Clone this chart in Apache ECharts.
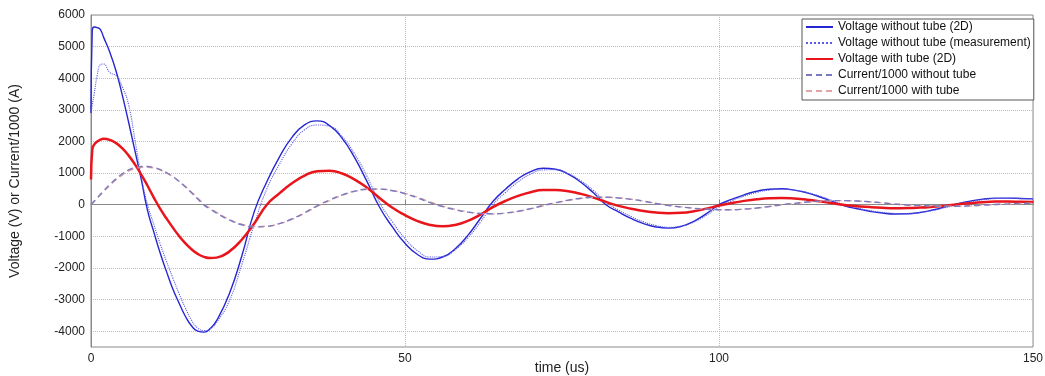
<!DOCTYPE html>
<html>
<head>
<meta charset="utf-8">
<script src="https://cdn.jsdelivr.net/npm/echarts@6/dist/echarts.min.js"></script>
<style>
html,body{margin:0;padding:0;background:#fff;}
#chart{width:1045px;height:376px;}
</style>
</head>
<body>
<div id="chart"></div>
<script>
// time (us)
const time = [0, 0.2, 0.5, 1, 1.5, 2, 3, 4, 5, 6, 7, 8, 9, 10, 11, 12, 13, 14, 15, 16, 17, 18, 19, 20,
  22, 24, 26, 28, 30, 32, 34, 36, 38, 40, 42, 44, 46, 48, 50, 52, 54, 56, 58, 60, 62, 64, 66, 68, 70,
  72, 74, 76, 78, 80, 82, 84, 86, 88, 90, 92, 94, 96, 98, 100, 102, 104, 106, 108, 110, 112, 114, 116,
  118, 120, 122, 124, 126, 128, 130, 132, 134, 136, 138, 140, 142, 144, 146, 148, 150];

// Voltage without tube (2D)
const voltNoTube2D = [2900, 5500, 5620, 5600, 5540, 5300, 4820, 4220, 3450, 2600, 1700, 800, -180, -860, -1520, -2100, -2650, -3100, -3520, -3830, -4000, -4030, -3911, -3667,
  -2831, -1630, -218, 728, 1508, 2129, 2523, 2650, 2502, 2099, 1481, 713, -95, -703, -1220, -1575, -1722, -1653, -1392, -971, -436, 101, 490, 819, 1049,
  1153, 1122, 969, 712, 376, 0, -229, -435, -599, -704, -740, -684, -523, -283, 0, 166, 313, 426, 491, 503, 463, 376, 253,
  103, -34, -127, -207, -264, -292, -288, -245, -169, -70, 31, 114, 176, 208, 207, 198, 185];

// Voltage without tube (measurement)
const voltNoTubeMeas = [2900, 3150, 3500, 4100, 4430, 4450, 4180, 4080, 3720, 3150, 2050, 900, 0, -620, -1230, -1780, -2300, -2800, -3250, -3650, -3900, -3980, -3920, -3720,
  -3050, -1900, -620, 500, 1280, 1930, 2370, 2520, 2480, 2150, 1600, 880, 55, -545, -1070, -1455, -1655, -1640, -1425, -1050, -555, 0, 385, 720, 970,
  1100, 1110, 985, 755, 450, 92, -172, -373, -543, -660, -715, -680, -548, -335, -68, 121, 269, 388, 461, 490, 460, 388, 275,
  136, -3, -100, -182, -243, -276, -283, -250, -184, -92, 5, 90, 155, 194, 200, 194, 184];

// Voltage with tube (2D)
const voltTube2D = [800, 1740, 1900, 2000, 2060, 2085, 2050, 1947, 1781, 1553, 1274, 955, 600, 227, -123, -428, -717, -983, -1217, -1409, -1555, -1649, -1688, -1673,
  -1484, -1107, -591, 0, 359, 677, 920, 1058, 1077, 986, 795, 527, 205, -97, -328, -517, -641, -684, -639, -510, -313, -75, 121, 278, 397,
  463, 468, 426, 343, 226, 88, -37, -125, -199, -249, -270, -256, -205, -124, -26, 54, 121, 172, 203, 210, 194, 160, 110,
  49, -9, -45, -76, -98, -109, -107, -92, -65, -29, 10, 50, 81, 98, 100, 94, 85];

// Current/1000 without tube
const currNoTube = [0, 44, 110, 219, 328, 435, 636, 821, 980, 1100, 1180, 1207, 1207, 1176, 1112, 1016, 891, 740, 569, 381, 183, -13, -141, -264,
  -480, -633, -702, -685, -597, -449, -254, -34, 151, 310, 429, 492, 494, 443, 348, 217, 64, -62, -158, -234, -279, -289, -263, -205, -123,
  -25, 66, 145, 204, 236, 237, 214, 170, 109, 37, -25, -73, -113, -143, -158, -158, -139, -103, -55, 0, 44, 84, 113,
  128, 128, 116, 92, 59, 20, -10, -27, -40, -49, -48, -33, -12, 8, 25, 40, 50];

// Current/1000 with tube
const currTube = [0, 40, 100, 205, 310, 410, 610, 790, 945, 1065, 1145, 1180, 1185, 1160, 1100, 1010, 890, 745, 580, 400, 210, 20, -115, -240,
  -460, -615, -690, -680, -600, -460, -270, -55, 130, 295, 420, 488, 495, 450, 360, 235, 85, -45, -145, -225, -275, -290, -268, -212, -132,
  -35, 55, 135, 198, 232, 236, 216, 175, 115, 45, -18, -68, -108, -140, -156, -158, -141, -107, -60, -6, 38, 79, 109,
  126, 128, 118, 95, 63, 25, -6, -24, -38, -48, -49, -36, -15, 5, 22, 37, 48];

const seriesNames = ['Voltage without tube (2D)', 'Voltage without tube (measurement)', 'Voltage with tube (2D)',
  'Current/1000 without tube', 'Current/1000 with tube'];
const xTicks = [0, 50, 100, 150];
const yTicks = [-4000, -3000, -2000, -1000, 0, 1000, 2000, 3000, 4000, 5000, 6000];

function pairs(vals) { return time.map((t, i) => [t, vals[i]]); }

const FONT = 'Liberation Sans, Arial, sans-serif';
const chart = echarts.init(document.getElementById('chart'), null, { renderer: 'canvas' });

const styles = [
  { color: '#2626d2', width: 1.4, type: 'solid', z: 3 },
  { color: '#5a5ae6', width: 1.1, type: 'dotted', z: 4 },
  { color: '#e8161c', width: 2.5, type: 'solid', z: 5 },
  { color: '#7a7ac0', width: 1.4, type: [6, 4], z: 7 },
  { color: '#e2a4a4', width: 1.4, type: [6, 4], z: 6 }
];
const dataSets = [voltNoTube2D, voltNoTubeMeas, voltTube2D, currNoTube, currTube];

chart.setOption({
  animation: false,
  backgroundColor: '#ffffff',
  grid: { left: 91, right: 12, top: 15, bottom: 29, show: true, borderColor: '#8a8a8a', borderWidth: 1,
    containLabel: false, outerBoundsMode: 'none' },
  legend: {
    orient: 'vertical', left: 802, top: 19,
    itemWidth: 27, itemHeight: 14, itemGap: 4, itemTextGap: 2,
    padding: [2, 3, 3, 3],
    borderColor: '#555', borderWidth: 1, backgroundColor: '#fff',
    itemStyle: { opacity: 0 },
    textStyle: { fontFamily: FONT, fontSize: 12, color: '#111' },
    data: seriesNames
  },
  xAxis: {
    type: 'value', min: xTicks[0], max: xTicks[xTicks.length - 1], interval: 50,
    name: 'time (us)', nameLocation: 'middle', nameGap: 14, nameMoveOverlap: false,
    nameTextStyle: { fontFamily: FONT, fontSize: 14, color: '#222', verticalAlign: 'top' },
    axisLine: { show: true, lineStyle: { color: '#8a8a8a' } },
    axisTick: { show: true, inside: true, length: 5, lineStyle: { color: '#8a8a8a' } },
    axisLabel: { fontFamily: FONT, fontSize: 12, color: '#222', margin: 6,
      formatter: v => xTicks.indexOf(v) >= 0 ? String(v) : '' },
    splitLine: { show: true, lineStyle: { color: '#bcbcbc', type: 'dotted', width: 1 } }
  },
  yAxis: {
    type: 'value', min: -4500, max: 6000, interval: 500,
    name: 'Voltage (V) or Current/1000 (A)', nameLocation: 'middle', nameGap: 69,
    nameTextStyle: { fontFamily: FONT, fontSize: 14, color: '#222' },
    axisLine: { show: true, lineStyle: { color: '#8a8a8a' } },
    axisTick: { show: false },
    axisLabel: { fontFamily: FONT, fontSize: 12, color: '#222', margin: 6,
      formatter: v => yTicks.indexOf(v) >= 0 ? String(v) : '' },
    splitLine: { show: true, lineStyle: { color: ['rgba(0,0,0,0)', '#bcbcbc'], type: 'dotted', width: 1 } }
  },
  series: seriesNames.map((name, i) => ({
    name: name, type: 'line', data: pairs(dataSets[i]),
    showSymbol: false, symbol: 'none', symbolSize: 0, smooth: true,
    lineStyle: { color: styles[i].color, width: styles[i].width, type: styles[i].type },
    itemStyle: { color: styles[i].color },
    z: styles[i].z
  }))
});
</script>
</body>
</html>
